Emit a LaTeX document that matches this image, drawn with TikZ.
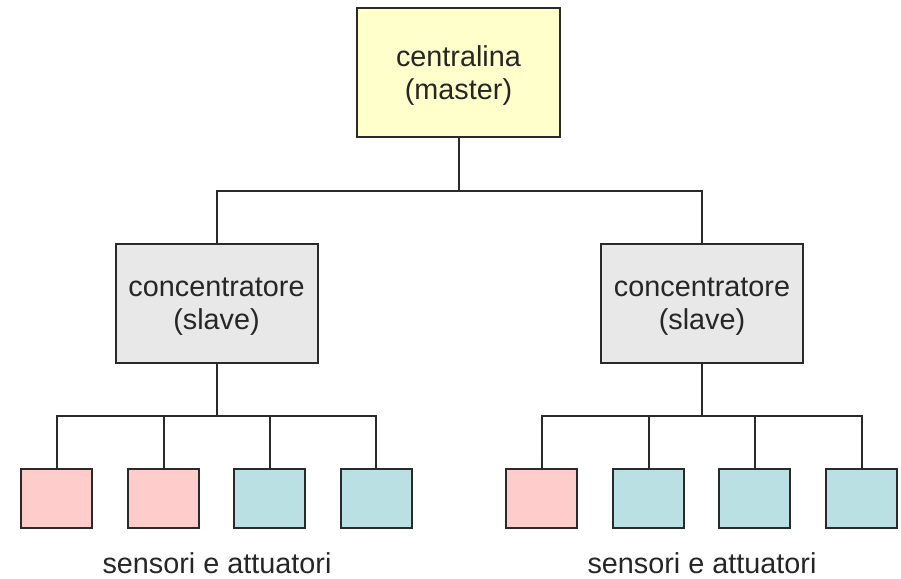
\documentclass[tikz,border=0pt]{standalone}
\usepackage{fontspec}
\setmainfont{Liberation Sans}
\definecolor{masterfill}{HTML}{FFFFCC}
\definecolor{slavefill}{HTML}{E8E8E8}
\definecolor{sensorfill}{HTML}{FFCCCC}
\definecolor{actfill}{HTML}{BBE0E3}
\definecolor{edge}{HTML}{2A2A2A}
\definecolor{ink}{HTML}{262626}
\tikzset{
  unitbox/.style={draw=edge, line width=1pt, rectangle, inner sep=0pt},
  boxtext/.style={text=ink, align=center, inner sep=0pt, yshift=-1.5pt,
    font=\fontsize{14.4}{16.3}\selectfont},
  masterbox/.style={unitbox, fill=masterfill, minimum width=101.5pt, minimum height=64.5pt},
  slavebox/.style={unitbox, fill=slavefill, minimum width=101pt, minimum height=59.5pt},
  sensorbox/.style={unitbox, fill=sensorfill, minimum width=35.5pt, minimum height=29.5pt},
  actbox/.style={unitbox, fill=actfill, minimum width=35.5pt, minimum height=29.5pt},
  wire/.style={draw=edge, line width=1pt},
  caption/.style={text=ink, font=\fontsize{14.4}{16}\selectfont, anchor=base}
}
\begin{document}
\begin{tikzpicture}[x=0.5pt, y=-0.5pt]
  \useasboundingbox (0,0) rectangle (901,579);

  % master unit
  \node[masterbox, label={[boxtext]center:{centralina\\(master)}}] (top) at (458.5,72.5) {};

  % concentrators
  \node[slavebox, label={[boxtext]center:{concentratore\\(slave)}}] (c1) at (216.5,303.5) {};
  \node[slavebox, label={[boxtext]center:{concentratore\\(slave)}}] (c2) at (702,303.5) {};

  % field devices, left branch
  \node[sensorbox] (s1) at (56.5,498.5) {};
  \node[sensorbox] (s2) at (163.5,498.5) {};
  \node[actbox]    (s3) at (269.5,498.5) {};
  \node[actbox]    (s4) at (376,498.5) {};

  % field devices, right branch
  \node[sensorbox] (r1) at (541.5,498.5) {};
  \node[actbox]    (r2) at (648.5,498.5) {};
  \node[actbox]    (r3) at (754.5,498.5) {};
  \node[actbox]    (r4) at (861.5,498.5) {};

  % bus junctions
  \coordinate (busT) at (458.5,191);
  \coordinate (busL) at (216.5,416);
  \coordinate (busR) at (702,416);

  % upper bus
  \draw[wire] (top) -- (busT);
  \draw[wire] (c1) |- (busT) -| (c2);

  % left bus
  \draw[wire] (c1) -- (busL);
  \draw[wire] (s1) |- (busL) -| (s4);
  \draw[wire] (s2) -- (s2 |- busL);
  \draw[wire] (s3) -- (s3 |- busL);

  % right bus
  \draw[wire] (c2) -- (busR);
  \draw[wire] (r1) |- (busR) -| (r4);
  \draw[wire] (r2) -- (r2 |- busR);
  \draw[wire] (r3) -- (r3 |- busR);

  % captions
  \node[caption] (lblL) at (217,573) {sensori e attuatori};
  \node[caption] (lblR) at (702,573) {sensori e attuatori};
\end{tikzpicture}
\end{document}
